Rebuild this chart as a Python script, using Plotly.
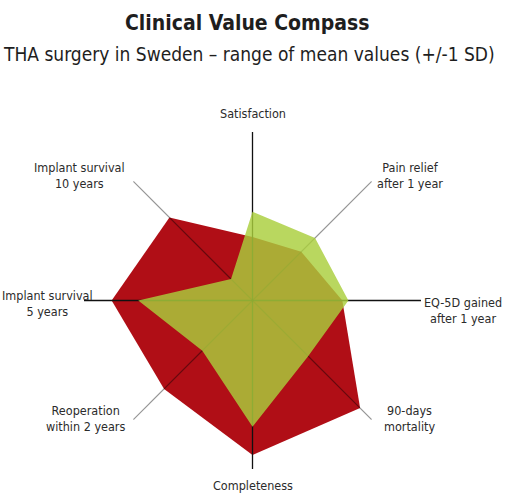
import math
import plotly.graph_objects as go

# spokes, clockwise from the top
categories = ['Satisfaction', 'Pain relief<br>after 1 year', 'EQ-5D gained<br>after 1 year',
              '90-days<br>mortality', 'Completeness', 'Reoperation<br>within 2 years',
              'Implant survival<br>5 years', 'Implant survival<br>10 years']

# values, 100 = end of spoke
red_values = [37.7, 40.9, 53.3, 90.3, 91.7, 74.2, 83.6, 69.7]
green_values = [52.7, 52.5, 56.9, 46.7, 74.9, 42.1, 67.8, 18.0]

n = len(categories)
angles = [i * 360 / n for i in range(n)]

# label placement next to the spoke ends (anchor, pixel shift)
label_xanchor = ['center', 'left', 'left', 'left', 'center', 'right', 'right', 'right']
label_xshift = [0, 3, 1, 10, 0, -6, 11, -6]
label_yshift = [19, 6, -10, 1, -16, 1, -3, 6]

FONT = 'DejaVu Sans Condensed, Roboto, sans-serif'

fig = go.Figure()

# red polygon
fig.add_trace(go.Scatterpolar(
    r=red_values + red_values[:1], theta=angles + angles[:1],
    mode='lines', fill='toself', fillcolor='#B00E16',
    line=dict(width=0, color='#B00E16'), showlegend=False, hoverinfo='skip'))

# spokes: straight ones black, diagonals grey
main_r, main_t, diag_r, diag_t = [], [], [], []
for i, a in enumerate(angles):
    if i % 2 == 0:
        main_r += [0, 100, None]
        main_t += [a, a, None]
    else:
        diag_r += [0, 100, None]
        diag_t += [a, a, None]

fig.add_trace(go.Scatterpolar(r=main_r, theta=main_t, mode='lines',
                              line=dict(color='#111111', width=1.3),
                              showlegend=False, hoverinfo='skip'))
fig.add_trace(go.Scatterpolar(r=diag_r, theta=diag_t, mode='lines',
                              line=dict(color='rgba(0,0,0,0.42)', width=1.2),
                              showlegend=False, hoverinfo='skip'))

# green polygon, see-through over the red
fig.add_trace(go.Scatterpolar(
    r=green_values + green_values[:1], theta=angles + angles[:1],
    mode='lines', fill='toself', fillcolor='rgba(170,206,60,0.82)',
    line=dict(width=0, color='rgba(170,206,60,0.82)'), showlegend=False, hoverinfo='skip'))

# spoke labels, put at the spoke ends (paper coords of the square polar domain)
annotations = []
for i, a in enumerate(angles):
    rad = math.radians(a)
    annotations.append(dict(
        text=categories[i], x=0.5 + 0.5 * math.sin(rad), y=0.5 + 0.5 * math.cos(rad),
        xref='paper', yref='paper', xanchor=label_xanchor[i], yanchor='middle',
        xshift=label_xshift[i], yshift=label_yshift[i], showarrow=False,
        font=dict(family=FONT, size=12.5, color='#2b2b2b')))

annotations += [
    dict(text='<b>Clinical Value Compass</b>', x=0.4837, y=1.3234,
         xref='paper', yref='paper', xanchor='center', yanchor='middle',
         showarrow=False, font=dict(family=FONT, size=21, color='#1e1e1e')),
    dict(text='THA surgery in Sweden – range of mean values (+/-1 SD)', x=0.491, y=1.2315,
         xref='paper', yref='paper', xanchor='center', yanchor='middle',
         showarrow=False, font=dict(family=FONT, size=19, color='#1e1e1e')),
]

fig.update_layout(
    width=506, height=496,
    margin=dict(l=84, r=85, t=132, b=27),
    paper_bgcolor='white',
    polar=dict(
        bgcolor='white',
        domain=dict(x=[0, 1], y=[0, 1]),
        radialaxis=dict(range=[0, 100], visible=False),
        angularaxis=dict(thetaunit='degrees', rotation=90, direction='clockwise',
                         visible=False, showgrid=False, showline=False)
    ),
    annotations=annotations
)

fig.write_html('out.html', config={'displayModeBar': False},
               post_script="document.body.style.margin='0';")
